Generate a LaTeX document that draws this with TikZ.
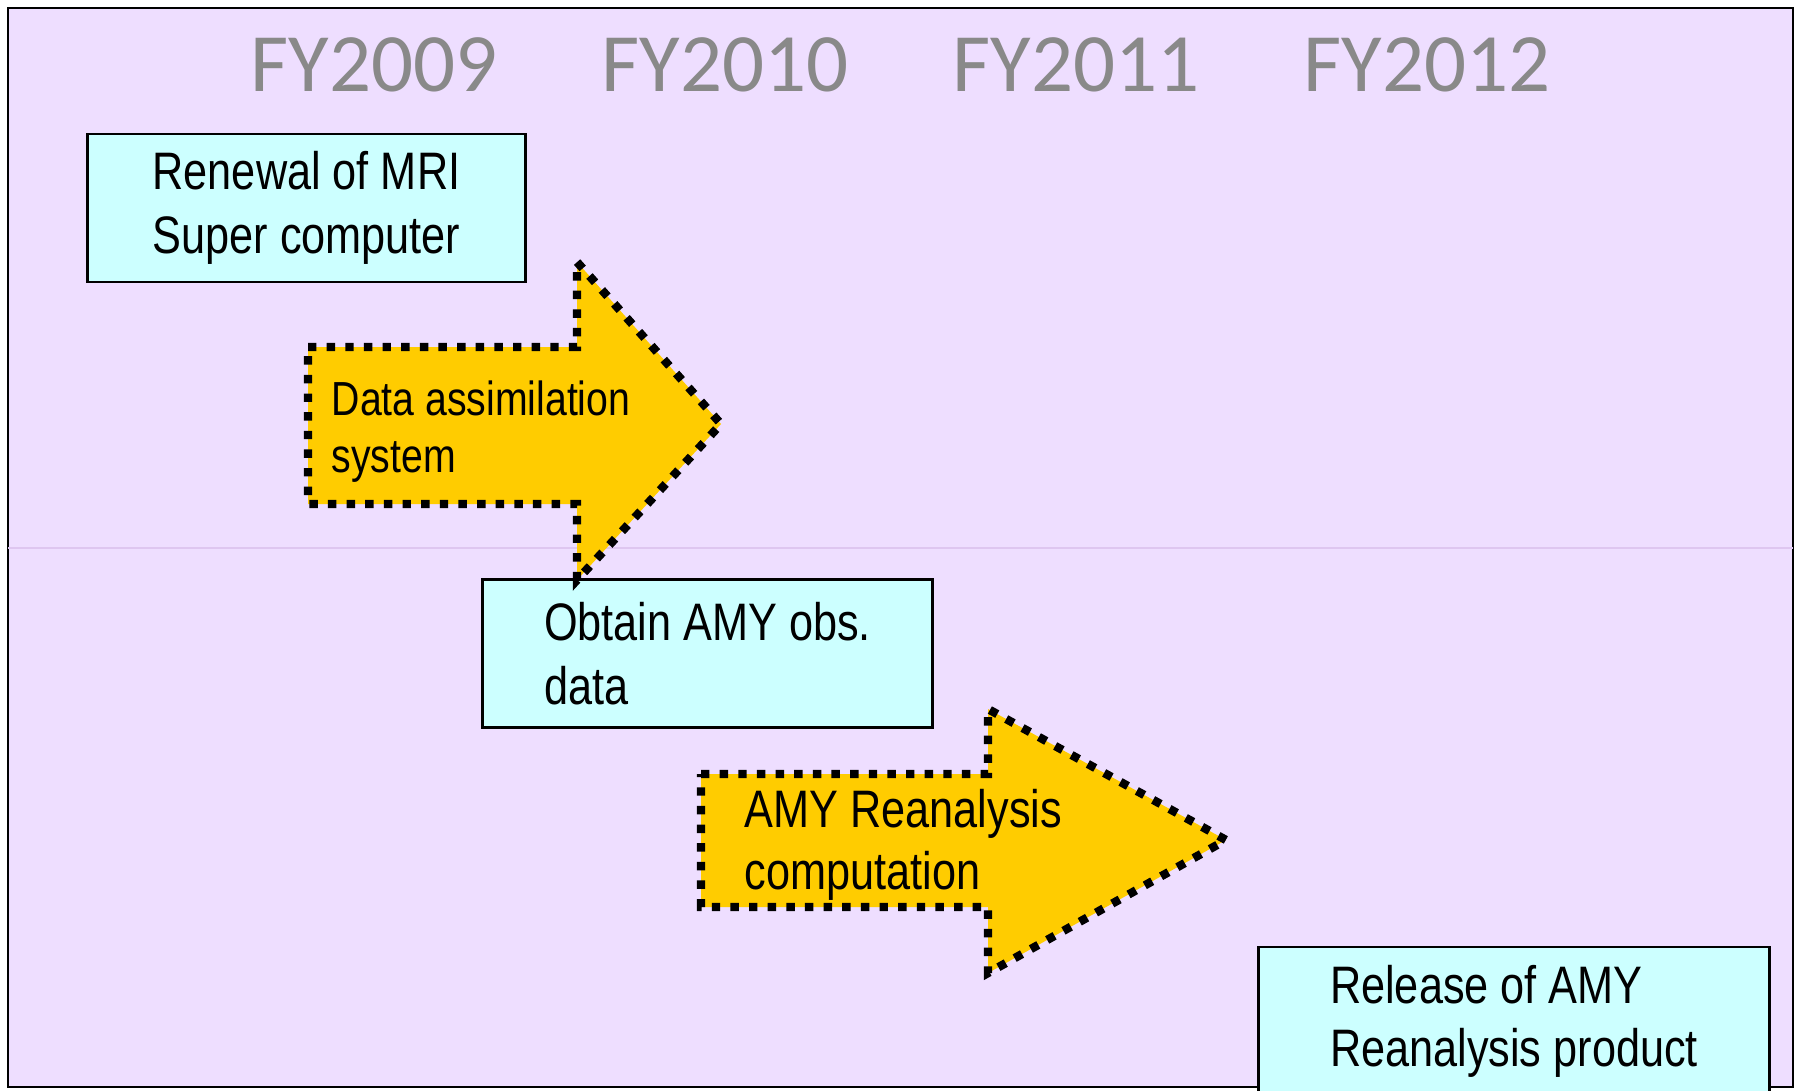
\documentclass[tikz,border=0pt]{standalone}
\usepackage{fontspec}
\setmainfont{Liberation Sans}
\newfontfamily\narrowfont[FakeStretch=0.82]{Liberation Sans}
\newfontfamily\yearfont{Carlito}
\usetikzlibrary{arrows.meta, positioning, calc}

\definecolor{panelbg}{RGB}{238,222,255}
\definecolor{panelline}{RGB}{222,198,240}
\definecolor{boxfill}{RGB}{204,255,255}
\definecolor{arrowfill}{RGB}{255,204,0}
\definecolor{yeargray}{RGB}{137,137,137}

\begin{document}
\begin{tikzpicture}[
    x=0.01cm, y=-0.01cm,
    year/.style={font=\yearfont\fontsize{23.6}{28}\selectfont, text=yeargray, anchor=base, inner sep=0},
    task/.style={draw, line width=0.8pt, fill=boxfill, minimum width=#1, minimum height=1.48cm,
                 align=left, inner sep=0, font=\narrowfont\fontsize{15}{18}\selectfont},
    blockarrow/.style={draw=black, fill=arrowfill, line width=2.4pt, dash pattern=on 2.4pt off 2.9pt},
    arrowlabel/.style={anchor=west, align=left, inner sep=0, font=\narrowfont\fontsize{15}{17.6}\selectfont}
]
\useasboundingbox (0,0) rectangle (1800,1091);

% Panel
\draw[fill=panelbg, line width=0.8pt] (8,8) rectangle (1793,1087);
\draw[panelline, line width=0.5pt] (8,548) -- (1793,548);

% Fiscal years
\foreach \yr [count=\i from 0] in {2009,2010,2011,2012}
    \node[year] (fy\yr) at (374+351*\i,92) {FY\yr};

% Milestones
\node[task=4.37cm] (renewal) at (306.5,208) {Renewal of MRI\\Super computer};
\node[task=4.49cm] (obtain) at (707.5,653.5) {Obtain AMY obs.\\data};
\node[task=5.10cm] (release) at (1514,1021) {Release of AMY\\Reanalysis product};

% Work periods
\draw[blockarrow] (308,347) -- (577,347) -- (577,262) -- (721,424) -- (577,580)
    -- (577,504) -- (308,504) -- cycle;
\node[arrowlabel, font=\narrowfont\fontsize{13.6}{16.2}\selectfont] (assim) at (331,432) {Data assimilation\\system};

\draw[blockarrow] (701,774) -- (988,774) -- (988,709) -- (1226,840) -- (988,973)
    -- (988,907) -- (701,907) -- cycle;
\node[arrowlabel] (reanal) at (744,845) {AMY Reanalysis\\computation};

\end{tikzpicture}
\end{document}
